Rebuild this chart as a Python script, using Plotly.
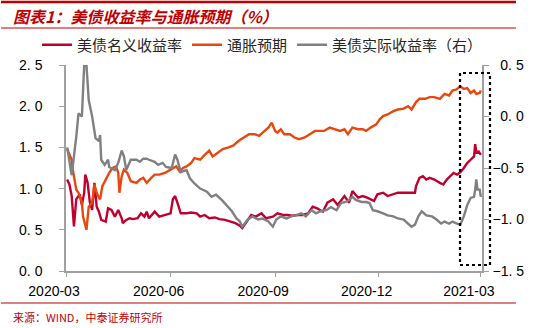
import plotly.graph_objects as go

# ---------------- data ----------------
nominal_dates = [
    "2020-03-02","2020-03-04","2020-03-06","2020-03-08","2020-03-10","2020-03-13","2020-03-15","2020-03-17",
    "2020-03-18","2020-03-20","2020-03-22","2020-03-24","2020-03-26","2020-03-28","2020-03-30",
    "2020-04-01","2020-04-05","2020-04-07","2020-04-10","2020-04-13","2020-04-16","2020-04-19","2020-04-20",
    "2020-04-23","2020-04-26","2020-04-29",
    "2020-05-03","2020-05-06","2020-05-09","2020-05-11","2020-05-13","2020-05-18","2020-05-22","2020-05-27",
    "2020-06-01","2020-06-03","2020-06-05","2020-06-07","2020-06-10","2020-06-15","2020-06-19","2020-06-24","2020-06-27",
    "2020-07-01","2020-07-05","2020-07-10","2020-07-14","2020-07-19","2020-07-23","2020-07-28",
    "2020-08-01","2020-08-03","2020-08-06","2020-08-11","2020-08-15","2020-08-20","2020-08-24","2020-08-30",
    "2020-09-03","2020-09-08","2020-09-12","2020-09-16","2020-09-21","2020-09-25","2020-09-30",
    "2020-10-04","2020-10-08","2020-10-13","2020-10-17","2020-10-22","2020-10-26",
    "2020-11-01","2020-11-05","2020-11-08","2020-11-13","2020-11-17","2020-11-21","2020-11-24","2020-11-27","2020-11-30",
    "2020-12-05","2020-12-09","2020-12-14","2020-12-18","2020-12-23","2020-12-29",
    "2021-01-02","2021-01-03","2021-01-06","2021-01-09","2021-01-12","2021-01-15","2021-01-19","2021-01-24",
    "2021-01-27","2021-01-30",
    "2021-02-02","2021-02-05","2021-02-08","2021-02-11","2021-02-14","2021-02-17","2021-02-20","2021-02-23",
    "2021-02-24","2021-02-25","2021-02-27",
    "2021-03-01",
]
nominal_yield = [
    1.11, 1.05, 0.91, 0.54, 0.87, 0.93, 0.80, 0.95, 1.17, 1.07, 0.83, 0.74, 1.07, 0.78, 0.72,
    0.62, 0.60, 0.76, 0.74, 0.66, 0.74, 0.64, 0.58, 0.62, 0.64, 0.63,
    0.64, 0.70, 0.66, 0.72, 0.64, 0.72, 0.66, 0.68,
    0.70, 0.87, 0.91, 0.83, 0.70, 0.70, 0.71, 0.70, 0.66,
    0.68, 0.64, 0.65, 0.63, 0.62, 0.60, 0.58,
    0.55, 0.52, 0.58, 0.68, 0.66, 0.70, 0.64, 0.66,
    0.70, 0.68, 0.68, 0.67, 0.68, 0.68, 0.70,
    0.78, 0.76, 0.72, 0.83, 0.87, 0.80,
    0.91, 0.83, 0.97, 0.89, 0.91, 0.89, 0.87, 0.85, 0.93,
    0.95, 0.91, 0.93, 0.95, 0.95, 0.95,
    0.95, 1.03, 1.13, 1.15, 1.11, 1.13, 1.11, 1.07, 1.05, 1.11,
    1.15, 1.19, 1.17, 1.20, 1.25, 1.31, 1.35, 1.39, 1.54, 1.44, 1.45,
    1.41,
]

breakeven_dates = [
    "2020-03-02","2020-03-04","2020-03-06","2020-03-07","2020-03-10","2020-03-12","2020-03-15","2020-03-16",
    "2020-03-19","2020-03-21","2020-03-24","2020-03-26","2020-03-28","2020-03-30","2020-03-31",
    "2020-04-02","2020-04-05","2020-04-08","2020-04-11","2020-04-14","2020-04-16","2020-04-17","2020-04-19",
    "2020-04-21","2020-04-24","2020-04-27",
    "2020-05-02","2020-05-05","2020-05-08","2020-05-11","2020-05-15","2020-05-18","2020-05-22","2020-05-27",
    "2020-06-01","2020-06-03","2020-06-06","2020-06-09","2020-06-12","2020-06-15","2020-06-19","2020-06-22","2020-06-27",
    "2020-07-01","2020-07-05","2020-07-08","2020-07-13","2020-07-17","2020-07-22","2020-07-26","2020-07-31",
    "2020-08-05","2020-08-09","2020-08-14","2020-08-18","2020-08-21","2020-08-26","2020-08-29",
    "2020-09-01","2020-09-03","2020-09-06","2020-09-09","2020-09-14","2020-09-18","2020-09-22","2020-09-27",
    "2020-10-01","2020-10-06","2020-10-10","2020-10-14","2020-10-19","2020-10-23","2020-10-28",
    "2020-11-01","2020-11-04","2020-11-08","2020-11-13","2020-11-17","2020-11-20","2020-11-24","2020-11-29",
    "2020-12-02","2020-12-05","2020-12-09","2020-12-14","2020-12-18","2020-12-23","2020-12-27","2020-12-30",
    "2021-01-03","2021-01-06","2021-01-11","2021-01-15","2021-01-19","2021-01-24","2021-01-28",
    "2021-02-01","2021-02-04","2021-02-07","2021-02-11","2021-02-14","2021-02-17","2021-02-20","2021-02-23",
    "2021-02-25","2021-02-28",
    "2021-03-01",
]
breakeven = [
    1.48, 1.41, 1.35, 1.23, 0.99, 0.95, 0.83, 0.66, 0.50, 0.78, 0.83, 1.05, 0.95, 0.89, 0.87,
    1.03, 1.11, 1.19, 1.25, 1.27, 1.19, 0.95, 1.15, 1.23, 1.19, 1.09,
    1.07, 1.11, 1.13, 1.07, 1.13, 1.17, 1.17, 1.19,
    1.23, 1.25, 1.27, 1.21, 1.25, 1.27, 1.31, 1.37, 1.35,
    1.41, 1.46, 1.39, 1.44, 1.48, 1.50, 1.52, 1.58,
    1.62, 1.66, 1.66, 1.64, 1.68, 1.74, 1.80,
    1.70, 1.68, 1.72, 1.66, 1.66, 1.62, 1.60, 1.62,
    1.66, 1.70, 1.70, 1.70, 1.74, 1.72, 1.70,
    1.72, 1.66, 1.74, 1.72, 1.72, 1.70, 1.74, 1.78,
    1.84, 1.88, 1.90, 1.94, 1.96, 1.97, 2.00, 1.96,
    2.05, 2.09, 2.09, 2.11, 2.11, 2.09, 2.15,
    2.13, 2.19, 2.20, 2.24, 2.21, 2.22, 2.16, 2.19, 2.15, 2.16,
    2.19,
]

real_dates = [
    "2020-03-02","2020-03-06","2020-03-10","2020-03-12","2020-03-15","2020-03-17","2020-03-19","2020-03-21",
    "2020-03-24","2020-03-27","2020-03-30","2020-03-31",
    "2020-04-01","2020-04-04","2020-04-07","2020-04-08","2020-04-13","2020-04-16","2020-04-19","2020-04-21",
    "2020-04-23","2020-04-27",
    "2020-05-02","2020-05-05","2020-05-08","2020-05-11","2020-05-13","2020-05-18","2020-05-21","2020-05-25","2020-05-28",
    "2020-06-02","2020-06-05","2020-06-07","2020-06-10","2020-06-15","2020-06-18","2020-06-22","2020-06-27",
    "2020-07-03","2020-07-07","2020-07-11","2020-07-16","2020-07-20","2020-07-25","2020-07-29",
    "2020-08-01","2020-08-03","2020-08-08","2020-08-12","2020-08-17","2020-08-21","2020-08-26","2020-08-30",
    "2020-09-02","2020-09-06","2020-09-11","2020-09-15","2020-09-19","2020-09-24","2020-09-28",
    "2020-10-03","2020-10-07","2020-10-11","2020-10-16","2020-10-20","2020-10-25","2020-10-29",
    "2020-11-02","2020-11-05","2020-11-08","2020-11-11","2020-11-16","2020-11-20","2020-11-23","2020-11-26","2020-11-30",
    "2020-12-05","2020-12-09","2020-12-14","2020-12-18","2020-12-23","2020-12-27","2020-12-30",
    "2021-01-02","2021-01-05","2021-01-08","2021-01-12","2021-01-17","2021-01-21","2021-01-25","2021-01-28",
    "2021-02-01","2021-02-04","2021-02-08","2021-02-11","2021-02-14","2021-02-17","2021-02-20","2021-02-23",
    "2021-02-24","2021-02-25","2021-02-26","2021-02-28",
    "2021-03-01",
]
real_yield = [
    -0.30, -0.57, -0.20, 0.03, 0.00, 0.50, 0.50, 0.16, 0.00, -0.21, -0.24, -0.18,
    -0.42, -0.47, -0.42, -0.49, -0.52, -0.45, -0.33, -0.39, -0.52, -0.42,
    -0.42, -0.44, -0.41, -0.41, -0.42, -0.44, -0.47, -0.45, -0.49,
    -0.50, -0.37, -0.42, -0.54, -0.52, -0.60, -0.65, -0.70,
    -0.73, -0.78, -0.76, -0.81, -0.86, -0.92, -0.99,
    -1.02, -1.07, -1.00, -0.97, -1.00, -0.99, -1.02, -1.07,
    -1.00, -0.97, -0.99, -0.97, -0.96, -0.94, -0.97,
    -0.91, -0.94, -0.92, -0.91, -0.88, -0.91, -0.84,
    -0.83, -0.81, -0.78, -0.81, -0.83, -0.83, -0.84, -0.91, -0.92,
    -0.94, -0.96, -0.97, -0.99, -1.00, -1.04, -1.07,
    -1.05, -0.97, -0.92, -0.96, -0.97, -1.00, -1.04, -1.02,
    -1.04, -1.02, -1.04, -1.05, -0.97, -0.86, -0.79, -0.78, -0.71, -0.61, -0.71, -0.71,
    -0.78,
]

series_names = ["美债名义收益率", "通胀预期", "美债实际收益率（右）"]
left_tickvals = [0.0, 0.5, 1.0, 1.5, 2.0, 2.5]
left_ticktext = ["0. 0", "0. 5", "1. 0", "1. 5", "2. 0", "2. 5"]
right_tickvals = [-1.5, -1.0, -0.5, 0.0, 0.5]
right_ticktext = ["\u22121. 5", "\u22121. 0", "\u22120. 5", "\u00a0\u00a00. 0", "\u00a0\u00a00. 5"]
x_tickvals = ["2020-03-01", "2020-06-01", "2020-09-01", "2020-12-01", "2021-03-01"]
x_ticktext = ["2020-03", "2020-06", "2020-09", "2020-12", "2021-03"]

title_text = "图表1：美债收益率与通胀预期（%）"
source_text = "来源：WIND，中泰证券研究所"

# ---------------- styling ----------------
W, H = 547, 328
ML, MR, MT, MB = 66, 65, 65, 57
PW, PH = W - ML - MR, H - MT - MB

def px_x(p):
    return (p - ML) / PW

def px_y(p):
    return (H - MB - p) / PH

RED = "#C0002E"
ORANGE = "#E8470E"
GRAY = "#808080"
TITLE_RED = "#C00000"
AXIS = "#A0A0A0"
CJK = "Noto Sans CJK SC"
NUM = "Liberation Sans, Arial"

fig = go.Figure()
fig.add_trace(go.Scatter(x=nominal_dates, y=nominal_yield, name=series_names[0], mode="lines",
                         line=dict(color=RED, width=2.4)))
fig.add_trace(go.Scatter(x=breakeven_dates, y=breakeven, name=series_names[1], mode="lines",
                         line=dict(color=ORANGE, width=2.4)))
fig.add_trace(go.Scatter(x=real_dates, y=real_yield, name=series_names[2], mode="lines", yaxis="y2",
                         line=dict(color=GRAY, width=2.4)))

fig.update_layout(
    width=W, height=H, autosize=False,
    margin=dict(l=ML, r=MR, t=MT, b=MB),
    paper_bgcolor="white", plot_bgcolor="white",
    font=dict(family=NUM, size=14, color="#000000"),
    showlegend=True,
    legend=dict(orientation="h", x=px_x(37), xanchor="left", y=px_y(45), yanchor="middle",
                font=dict(family=CJK, size=15, color="#262626"), bgcolor="rgba(0,0,0,0)",
                itemwidth=30, tracegroupgap=0),
    xaxis=dict(type="date", range=["2020-03-01", "2021-03-02"], tickvals=x_tickvals, ticktext=x_ticktext,
               showgrid=False, zeroline=False, showline=True, linecolor=AXIS, linewidth=1.5,
               ticks="outside", ticklen=4, tickcolor=AXIS, tickwidth=1,
               tickfont=dict(family=NUM, size=14, color="#000000"), ticklabelshift=-12, ticklabelstandoff=2),
    yaxis=dict(range=[0, 2.5], tickvals=left_tickvals, ticktext=left_ticktext,
               showgrid=False, zeroline=False, showline=True, linecolor=AXIS, linewidth=1.5,
               ticks="outside", ticklen=5, tickcolor=AXIS, tickwidth=1,
               tickfont=dict(family=NUM, size=14, color="#000000"), ticklabelstandoff=14),
    yaxis2=dict(range=[-1.5, 0.5], tickvals=right_tickvals, ticktext=right_ticktext, overlaying="y", side="right",
                showgrid=False, zeroline=False, showline=True, linecolor=AXIS, linewidth=1.5,
                ticks="outside", ticklen=5, tickcolor=AXIS, tickwidth=1,
                tickfont=dict(family=NUM, size=14, color="#000000"), ticklabelstandoff=1),
)

# highlight box (dotted rectangle)
fig.add_shape(type="rect", xref="paper", yref="paper",
              x0=px_x(460), x1=px_x(490), y0=px_y(265), y1=px_y(73),
              line=dict(color="#000000", width=2.2, dash="dot"), fillcolor="rgba(0,0,0,0)")

# header/footer rules
fig.add_shape(type="line", xref="paper", yref="paper", x0=px_x(1), x1=px_x(516), y0=px_y(2), y1=px_y(2),
              line=dict(color=TITLE_RED, width=2.5))
fig.add_shape(type="line", xref="paper", yref="paper", x0=px_x(1), x1=px_x(516), y0=px_y(28), y1=px_y(28),
              line=dict(color=TITLE_RED, width=1.2))
fig.add_shape(type="line", xref="paper", yref="paper", x0=px_x(1), x1=px_x(516), y0=px_y(303), y1=px_y(303),
              line=dict(color=TITLE_RED, width=1.2))

fig.add_annotation(text=title_text, xref="paper", yref="paper",
                   x=px_x(11), y=px_y(16), xanchor="left", yanchor="middle", showarrow=False,
                   font=dict(family=CJK, size=16, color=TITLE_RED, weight="bold", style="italic"))
fig.add_annotation(text=source_text, xref="paper", yref="paper",
                   x=px_x(11), y=px_y(317), xanchor="left", yanchor="middle", showarrow=False,
                   font=dict(family=CJK, size=11, color=TITLE_RED))

fig.write_html("out.html")
